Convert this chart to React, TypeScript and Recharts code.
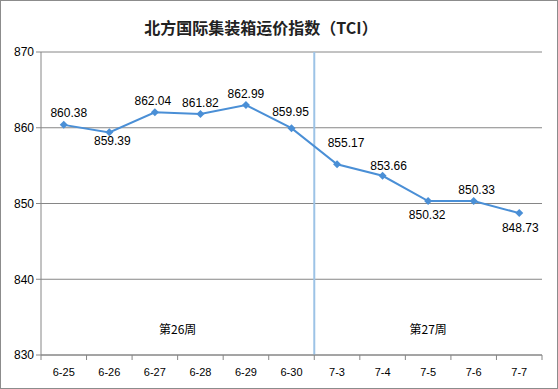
import React from 'react';
import {
  LineChart, Line, XAxis, YAxis, CartesianGrid, ReferenceLine, ReferenceArea, LabelList,
} from 'recharts';

const dates = ['6-25', '6-26', '6-27', '6-28', '6-29', '6-30', '7-3', '7-4', '7-5', '7-6', '7-7'];
const tci = [860.38, 859.39, 862.04, 861.82, 862.99, 859.95, 855.17, 853.66, 850.32, 850.33, 848.73];
const yTicks = [830, 840, 850, 860, 870];
const weeks = [
  { name: '第26周', from: 0, to: 6 },
  { name: '第27周', from: 6, to: 11 },
];

// label nudges (px) so each value sits where the original placed it
const labelDx = [5, 3, -2, 0, 0, -1, 9, 6, -1, 3, 1];
const labelDy = [-12, 9, -11, -11, -11, -16, -21, -10, 14, -11, 15];

const data = dates.map((d, i) => ({ x: i + 0.5, date: d, value: tci[i] }));
const xTicks: number[] = [];
for (let i = 0; i <= dates.length * 2; i++) xTicks.push(i / 2);

const FONT = '"Liberation Sans", Arial, sans-serif';
const CJK = '"Noto Sans CJK SC", sans-serif';
const BLUE = '#4a8fd6';
const GRID = '#868686';

function XTick(props: any) {
  const { x, y, payload } = props;
  const v = payload.value as number;
  if (Number.isInteger(v)) {
    return <line x1={x} x2={x} y1={y - 8} y2={y - 3} stroke={GRID} />;
  }
  return (
    <text x={x} y={y + 13} textAnchor="middle" fontSize={11} fill="#000" fontFamily={FONT}>
      {dates[Math.floor(v)]}
    </text>
  );
}

function Diamond(props: any) {
  const { cx, cy } = props;
  if (cx == null || cy == null) return null;
  return <path d={`M${cx},${cy - 4}L${cx + 4},${cy}L${cx},${cy + 4}L${cx - 4},${cy}Z`} fill={BLUE} />;
}

function PointLabel(props: any) {
  const { x, y, value, index } = props;
  return (
    <text x={x + labelDx[index]} y={y + labelDy[index] + 4} textAnchor="middle" fontSize={12} fill="#000" fontFamily={FONT}>
      {value.toFixed(2)}
    </text>
  );
}

export default function App() {
  return (
    <div style={{ position: 'absolute', left: 0, top: 0, width: 556, height: 387, border: '1px solid #8c8c8c', background: '#fff' }}>
      <div style={{ position: 'absolute', left: 0, top: 14, width: 520, textAlign: 'center', fontFamily: CJK, fontWeight: 700, fontSize: 16, color: '#222' }}>
        北方国际集装箱运价指数（TCI）
      </div>
      <LineChart width={556} height={387} data={data} margin={{ top: 51, right: 15, bottom: 0, left: 0 }}>
        <CartesianGrid vertical={false} stroke={GRID} />
        <XAxis
          dataKey="x"
          type="number"
          domain={[0, dates.length]}
          ticks={xTicks}
          interval={0}
          tick={<XTick />}
          tickLine={false}
          axisLine={{ stroke: GRID }}
          height={33}
        />
        <YAxis
          domain={[830, 870]}
          ticks={yTicks}
          width={40}
          tick={{ fontSize: 12, fill: '#000', fontFamily: FONT }}
          tickLine={{ stroke: GRID }}
          tickSize={5}
          axisLine={{ stroke: GRID }}
        />
        <ReferenceLine x={6} stroke="#9dc3e6" strokeWidth={2} />
        {weeks.map((w) => (
          <ReferenceArea
            key={w.name}
            x1={w.from}
            x2={w.to}
            y1={831}
            y2={835.6}
            fill="none"
            stroke="none"
            label={{ value: w.name, position: 'center', fontSize: 12, fill: '#000', fontFamily: CJK }}
          />
        ))}
        <Line
          dataKey="value"
          stroke={BLUE}
          strokeWidth={2}
          dot={<Diamond />}
          activeDot={false}
          isAnimationActive={false}
        >
          <LabelList dataKey="value" content={<PointLabel />} />
        </Line>
      </LineChart>
    </div>
  );
}
